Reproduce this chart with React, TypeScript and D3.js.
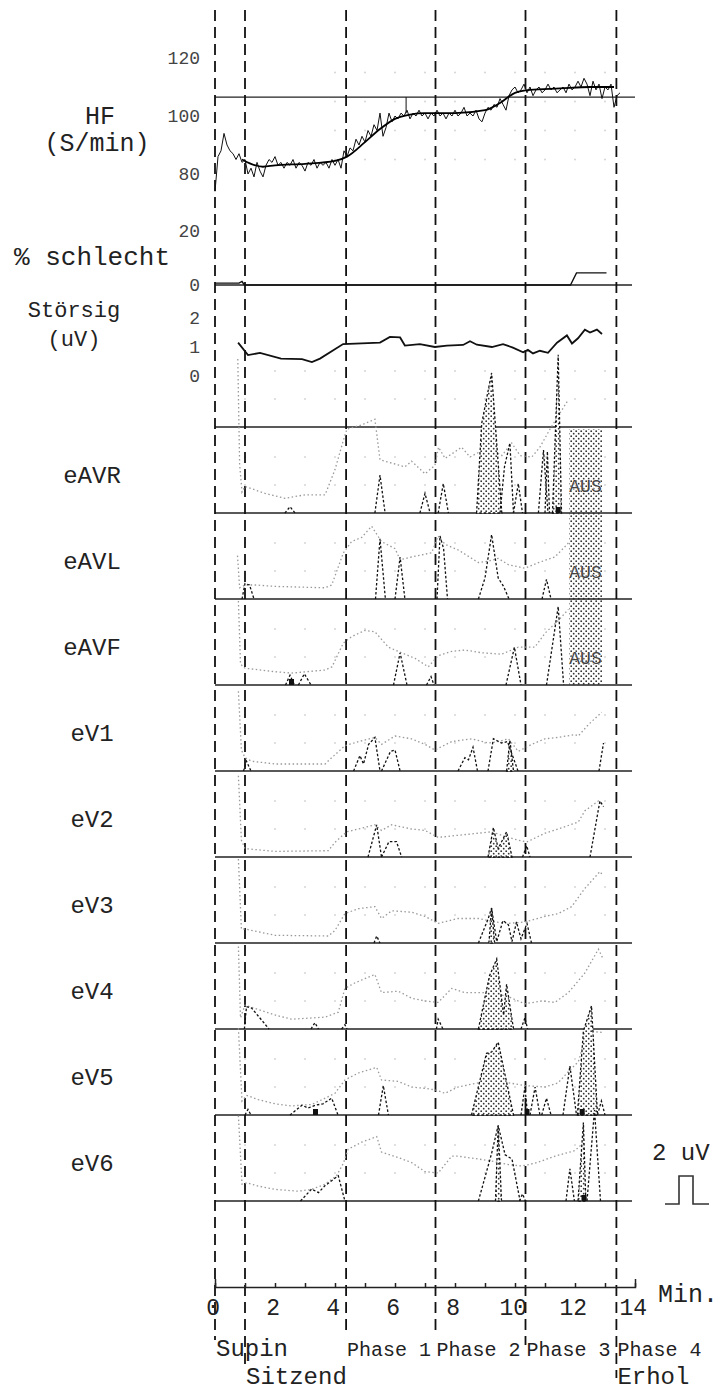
import React, { useEffect, useRef } from 'react';
import * as d3 from 'd3';

const FONT = "'Liberation Mono', 'DejaVu Sans Mono', monospace";

// time axis, minutes
const minuteTicks = d3.range(0, 15);
const phaseLines = [0, 1.0, 4.37, 7.35, 10.35, 13.38];
const phaseText = ['Supin', 'Sitzend', 'Phase 1', 'Phase 2', 'Phase 3', 'Phase 4', 'Erhol'];
const phaseStart = [0, 1.0, 4.37, 7.35, 10.35, 13.38, 13.38];
const phaseRow = [0, 1, 0, 0, 0, 0, 1];

// heart rate
const hfTicks = [80, 100, 120];
const hfRef = 106.5;
const HF_STEP = 0.1;
const hfRaw = [
  74, 86, 88, 94, 90, 88, 87, 85, 87, 84,
  85, 80, 82, 79, 84, 81, 79, 83, 85, 84,
  86, 83, 84, 82, 84, 83, 85, 82, 84, 83,
  81, 84, 83, 85, 82, 84, 83, 84, 82, 85,
  83, 85, 82, 88, 86, 89, 88, 92, 90, 93,
  91, 95, 93, 97, 95, 101, 93, 96, 101, 98,
  100, 99, 101, 100, 102, 99, 101, 100, 102, 100,
  101, 99, 101, 100, 102, 100, 101, 99, 101, 100,
  102, 100, 101, 103, 100, 101, 100, 102, 99, 98,
  101, 103, 102, 104, 103, 106, 104, 102, 107, 109,
  110, 108, 109, 111, 108, 110, 107, 109, 110, 108,
  109, 111, 109, 110, 108, 109, 110, 108, 111, 109,
  110, 112, 110, 113, 111, 107, 112, 109, 111, 106,
  110, 109, 111, 103, 107, 108,
];
const hfTrend: [number, number][] = [
  [0.9, 85], [1.2, 83.5], [1.6, 82.5], [2, 83], [3, 83.5], [4, 84.5], [4.4, 86],
  [5, 91], [5.5, 95.5], [6, 99], [6.5, 100.5], [7, 101], [8, 101], [9, 102],
  [9.5, 104.5], [10, 108], [10.5, 109], [11.5, 109.5], [12.5, 110], [13.3, 110],
];
const hfMarkTime = 6.37;
const hfMarkValue = 101;

// % schlecht
const badTicks = [0, 20];
const badPct: [number, number][] = [
  [0, 0.7], [0.8, 0.7], [0.9, 1.3], [0.98, 0], [11.85, 0], [12.05, 4.5], [13.05, 4.5],
];

// Störsignal (uV)
const noiseTicks = [0, 1, 2];
const noiseUV: [number, number][] = [
  [0.77, 1.15], [1.1, 0.72], [1.5, 0.8], [2.2, 0.6], [2.9, 0.58], [3.23, 0.48], [3.5, 0.6],
  [4.27, 1.1], [5.5, 1.15], [5.83, 1.35], [6.17, 1.33], [6.33, 1.05], [6.83, 1.1], [7.33, 1.0],
  [7.73, 1.05], [8.27, 1.07], [8.5, 1.2], [8.73, 1.08], [9.23, 1.0], [9.6, 1.1], [9.93, 0.98],
  [10.27, 0.82], [10.43, 0.9], [10.6, 0.78], [10.83, 0.87], [11.1, 0.8], [11.4, 1.15],
  [11.73, 1.4], [11.9, 1.12], [12.1, 1.3], [12.33, 1.6], [12.5, 1.5], [12.73, 1.6], [12.9, 1.45],
];

// ST channels (uV): light trend, black spikes, stippled spikes, markers
const channelNames = ['eAVR', 'eAVL', 'eAVF', 'eV1', 'eV2', 'eV3', 'eV4', 'eV5', 'eV6'];
const ausStart = 11.8;
const ausEnd = 12.9;
const ausChannels = [0, 1, 2];

const trendAVR: [number, number][] = [[0.76, 11], [0.82, 3.5], [0.9, 1.5], [1.0, 1.9], [1.67, 1.4], [2.33, 1.05], [3.0, 1.3], [3.67, 1.3], [4.0, 3.1], [4.28, 5.2], [4.4, 6.0], [4.9, 6.3], [5.33, 6.7], [5.5, 3.8], [6.0, 3.5], [6.33, 3.3], [6.55, 3.7], [7.0, 2.8], [7.33, 3.4], [7.45, 4.7], [7.67, 3.9], [8.22, 4.7], [8.5, 4.0], [9.11, 4.7], [9.56, 4.1], [9.89, 5.0], [10.17, 4.1], [10.56, 4.0], [10.83, 4.7], [11.17, 6.0], [11.75, 8.0]];
const spikesAVR: [number, number][][] = [[[2.33, 0], [2.5, 0.45], [2.67, 0]], [[5.33, 0], [5.5, 2.7], [5.67, 0]], [[6.83, 0], [7.0, 1.4], [7.17, 0]], [[7.44, 0], [7.61, 2.1], [7.78, 0]], [[9.5, 0], [9.65, 3.3], [9.83, 5.0], [9.95, 0]], [[9.95, 0], [10.11, 2.1], [10.25, 0]], [[10.78, 0], [10.95, 4.5], [11.1, 0]], [[11.0, 0], [11.08, 4.4], [11.15, 0]]];
const fillsAVR: [number, number][][] = [[[8.72, 0], [8.89, 6.4], [9.22, 10], [9.56, 0]], [[11.25, 0], [11.44, 11.3], [11.55, 0]]];
const markersAVR = [11.44];

const trendAVL: [number, number][] = [[0.75, 3.1], [0.82, 0.8], [1.0, 1.0], [1.35, 1.0], [2.0, 0.9], [3.67, 0.8], [3.89, 1.0], [4.28, 3.3], [4.55, 4.1], [4.89, 4.4], [5.22, 5.2], [5.55, 4.1], [6.0, 3.6], [6.17, 2.8], [6.55, 3.0], [7.22, 3.3], [7.44, 4.5], [7.67, 3.9], [8.11, 3.5], [8.78, 2.6], [9.11, 2.7], [9.44, 2.9], [9.78, 2.45], [10.33, 2.2], [10.78, 2.6], [11.33, 3.0], [11.78, 4.0]];
const spikesAVL: [number, number][][] = [[[0.9, 0], [1.0, 1.1], [1.15, 1.0], [1.3, 0]], [[5.35, 0], [5.5, 4.3], [5.68, 0]], [[6.0, 0], [6.17, 3.0], [6.33, 0]], [[7.4, 0], [7.5, 4.5], [7.62, 3.6], [7.75, 0]], [[8.78, 0], [9.0, 1.5], [9.22, 4.6], [9.44, 1.5], [9.62, 0.9], [9.8, 0]], [[10.9, 0], [11.05, 1.4], [11.2, 0]]];
const fillsAVL: [number, number][][] = [];
const markersAVL: number[] = [];

const trendAVF: [number, number][] = [[0.78, 6.0], [0.85, 1.5], [1.0, 1.2], [2.0, 0.95], [2.55, 0.85], [3.67, 1.07], [3.9, 1.3], [4.28, 3.0], [4.55, 3.45], [5.0, 3.9], [5.33, 3.8], [5.78, 2.7], [6.22, 2.3], [6.67, 1.9], [7.11, 1.3], [7.44, 2.1], [7.89, 2.4], [8.33, 2.5], [8.89, 2.3], [9.55, 2.2], [10.11, 2.7], [10.66, 2.7], [11.0, 3.7], [11.44, 4.6], [11.78, 5.4]];
const spikesAVF: [number, number][][] = [[[2.35, 0], [2.5, 0.7], [2.65, 0]], [[2.78, 0], [2.98, 0.8], [3.2, 0]], [[5.95, 0], [6.17, 2.3], [6.4, 0]], [[7.05, 0], [7.2, 0.6], [7.3, 0]], [[9.7, 0], [9.98, 2.7], [10.2, 0]], [[11.05, 0], [11.44, 5.6], [11.62, 0]]];
const fillsAVF: [number, number][][] = [];
const markersAVF = [2.55];

const trendV1: [number, number][] = [[0.78, 5.7], [0.88, 1.5], [1.0, 0.95], [1.22, 0.7], [2.0, 0.5], [3.67, 0.5], [3.89, 0.95], [4.33, 1.8], [4.78, 2.1], [5.33, 2.4], [5.55, 1.9], [6.0, 2.5], [6.55, 2.3], [7.0, 1.9], [7.33, 1.5], [7.89, 2.1], [8.55, 2.3], [9.11, 2.0], [9.44, 2.1], [9.78, 2.3], [10.11, 1.4], [10.55, 1.9], [11.0, 2.3], [11.44, 2.4], [12.0, 2.6], [12.11, 2.5], [12.44, 3.3], [12.89, 4.2]];
const spikesV1: [number, number][][] = [[[0.95, 0], [1.05, 0.7], [1.2, 0]], [[4.62, 0], [4.83, 1.1], [4.95, 0.5], [5.12, 1.9], [5.33, 2.4], [5.5, 0]], [[5.55, 0], [5.85, 1.4], [6.0, 1.5], [6.17, 0]], [[8.1, 0], [8.33, 0.95], [8.45, 0.8], [8.6, 1.7], [8.75, 0]], [[9.1, 0], [9.28, 2.3], [9.55, 2.0], [9.75, 2.1], [10.1, 0]], [[12.8, 0], [12.95, 2.0]]];
const fillsV1: [number, number][][] = [[[9.72, 0], [9.83, 2.2], [9.95, 0]]];
const markersV1: number[] = [];

const trendV2: [number, number][] = [[0.78, 5.8], [0.88, 1.2], [1.0, 0.6], [2.0, 0.4], [3.78, 0.45], [4.0, 1.05], [4.39, 1.8], [4.78, 2.0], [5.33, 2.3], [5.55, 1.9], [5.89, 2.3], [6.55, 2.0], [7.0, 1.9], [7.44, 1.4], [8.1, 1.55], [8.78, 1.7], [9.22, 1.8], [9.78, 1.4], [10.11, 1.2], [10.39, 1.07], [11.0, 1.7], [11.44, 2.0], [12.11, 2.5], [12.33, 3.3], [12.78, 4.0], [12.94, 3.7]];
const spikesV2: [number, number][][] = [[[5.1, 0], [5.39, 2.3], [5.55, 0]], [[5.55, 0], [5.8, 1.1], [6.05, 1.1], [6.22, 0]], [[10.25, 0], [10.39, 0.8], [10.5, 0]], [[12.5, 0], [12.83, 4.0], [12.95, 3.6]]];
const fillsV2: [number, number][][] = [[[9.1, 0], [9.28, 2.1], [9.44, 0.6], [9.72, 1.8], [9.9, 0]]];
const markersV2: number[] = [];

const trendV3: [number, number][] = [[0.78, 6.0], [0.88, 1.0], [1.0, 1.0], [2.0, 0.55], [3.78, 0.5], [4.0, 0.9], [4.33, 2.1], [4.78, 2.45], [5.33, 2.6], [5.55, 1.75], [5.89, 2.3], [6.55, 2.2], [7.0, 1.9], [7.44, 1.4], [8.1, 1.75], [8.78, 1.75], [9.33, 1.5], [9.78, 1.4], [10.33, 1.5], [11.0, 1.9], [11.44, 2.1], [11.89, 2.6], [12.33, 3.9], [12.83, 5.1], [12.94, 4.8]];
const spikesV3: [number, number][][] = [[[5.3, 0], [5.39, 0.5], [5.5, 0]], [[8.78, 0], [9.1, 1.7], [9.22, 2.5], [9.39, 0.1], [9.6, 1.6], [9.78, 1.3], [9.9, 0.1], [10.05, 1.5], [10.2, 0.3], [10.4, 1.4], [10.55, 0]]];
const fillsV3: [number, number][][] = [[[9.13, 0], [9.22, 2.5], [9.32, 0]]];
const markersV3: number[] = [];

const trendV4: [number, number][] = [[0.78, 5.9], [0.85, 0.8], [1.0, 1.7], [1.22, 1.55], [2.0, 1.0], [2.55, 0.7], [3.67, 0.85], [4.11, 1.2], [4.33, 2.9], [4.67, 3.3], [5.33, 3.9], [5.55, 2.6], [6.11, 2.7], [6.55, 2.2], [7.0, 2.0], [7.44, 1.9], [7.89, 2.9], [8.33, 2.6], [9.22, 2.6], [9.78, 2.3], [10.33, 1.8], [10.89, 2.0], [11.33, 1.9], [11.78, 2.6], [12.33, 4.0], [12.78, 5.7], [12.94, 5.0]];
const spikesV4: [number, number][][] = [[[0.98, 0], [1.05, 1.6], [1.22, 1.5], [1.8, 0]], [[3.2, 0], [3.33, 0.45], [3.45, 0]], [[4.22, 0], [4.33, 0.3], [4.4, 0]], [[7.38, 0], [7.44, 0.7], [7.6, 0]], [[10.2, 0], [10.33, 0.8], [10.42, 0]]];
const fillsV4: [number, number][][] = [[[8.78, 0], [9.15, 3.8], [9.39, 5.0], [9.62, 1.0], [9.72, 3.2], [9.95, 0]]];
const markersV4: number[] = [];

const trendV5: [number, number][] = [[0.78, 6.2], [0.9, 1.0], [1.06, 1.4], [1.44, 1.1], [2.0, 0.8], [2.55, 0.65], [3.22, 0.75], [3.67, 1.2], [4.0, 1.55], [4.33, 2.5], [4.78, 3.0], [5.39, 3.4], [5.55, 2.5], [6.11, 2.4], [6.55, 2.0], [7.0, 1.9], [7.33, 1.8], [7.67, 1.55], [8.1, 2.0], [8.78, 2.3], [9.22, 2.4], [9.78, 2.3], [10.33, 2.1], [11.0, 2.0], [11.44, 2.3], [11.78, 3.1], [12.11, 3.8], [12.28, 5.0], [12.44, 6.0], [12.89, 5.9]];
const spikesV5: [number, number][][] = [[[1.0, 0], [1.1, 0.4], [1.2, 0]], [[2.5, 0], [2.9, 0.7], [3.1, 0.5], [3.35, 0.7], [3.6, 0.8], [3.89, 1.2], [4.1, 0]], [[5.45, 0], [5.61, 2.1], [5.78, 0]], [[10.2, 0], [10.33, 2.0], [10.42, 0]], [[10.5, 0], [10.67, 2.0], [10.83, 0]], [[10.89, 0], [11.05, 1.2], [11.2, 0]], [[11.6, 0], [11.83, 3.5], [12.05, 0]], [[12.75, 0], [12.88, 1.0], [13.0, 0]]];
const fillsV5: [number, number][][] = [[[8.55, 0], [9.05, 4.4], [9.22, 4.5], [9.44, 5.2], [9.95, 0]], [[12.08, 0], [12.28, 6.0], [12.55, 7.8], [12.75, 0]]];
const markersV5 = [3.35, 10.4, 12.24];

const trendV6: [number, number][] = [[0.78, 6.1], [0.9, 1.2], [1.06, 1.3], [1.44, 1.07], [2.0, 0.83], [2.78, 0.7], [3.22, 0.83], [3.67, 1.2], [4.05, 1.8], [4.28, 2.7], [4.44, 3.7], [4.89, 4.2], [5.39, 4.6], [5.55, 3.5], [6.11, 3.1], [6.55, 2.75], [7.0, 2.1], [7.44, 2.0], [7.89, 3.2], [8.1, 3.2], [8.78, 3.0], [9.22, 2.85], [9.78, 2.6], [10.22, 2.5], [10.67, 2.7], [11.33, 3.2], [12.0, 3.6], [12.2, 4.0]];
const spikesV6: [number, number][][] = [[[2.85, 0], [3.22, 0.85], [3.45, 0.6], [3.67, 1.1], [4.11, 1.8], [4.33, 0]], [[8.78, 0], [9.22, 3.4], [9.44, 5.4], [9.67, 3.3], [9.9, 3.0], [10.17, 0]], [[10.15, 0], [10.25, 0.5], [10.35, 0]], [[11.7, 0], [11.83, 2.3], [11.98, 0]], [[12.4, 0], [12.65, 6.5], [12.85, 0]]];
const fillsV6: [number, number][][] = [[[9.35, 0], [9.44, 5.4], [9.55, 0]], [[12.1, 0], [12.28, 5.6], [12.36, 0]]];
const markersV6 = [12.3];

const channelTrends = [trendAVR, trendAVL, trendAVF, trendV1, trendV2, trendV3, trendV4, trendV5, trendV6];
const channelSpikes = [spikesAVR, spikesAVL, spikesAVF, spikesV1, spikesV2, spikesV3, spikesV4, spikesV5, spikesV6];
const channelFills = [fillsAVR, fillsAVL, fillsAVF, fillsV1, fillsV2, fillsV3, fillsV4, fillsV5, fillsV6];
const channelMarkers = [markersAVR, markersAVL, markersAVF, markersV1, markersV2, markersV3, markersV4, markersV5, markersV6];

const scaleBarUV = 2;

export default function App() {
  const svgRef = useRef<SVGSVGElement>(null);

  useEffect(() => {
    const svg = d3.select(svgRef.current);
    svg.selectAll('*').remove();

    const x = d3.scaleLinear().domain([0, 14]).range([215, 635]);
    const hfY = d3.scaleLinear().domain([80, 120]).range([174, 58]);
    const badY = d3.scaleLinear().domain([0, 20]).range([285, 231]);
    const stY = d3.scaleLinear().domain([0, 2]).range([376, 318]);
    const base = (i: number) => 513 + i * 86;
    const panelY = (i: number) => d3.scaleLinear().domain([0, 1]).range([base(i), base(i) - 14]);

    // stipple pattern for filled spikes and AUS band
    const defs = svg.append('defs');
    const pat = defs.append('pattern').attr('id', 'stipple')
      .attr('patternUnits', 'userSpaceOnUse').attr('width', 5).attr('height', 5);
    pat.append('rect').attr('width', 5).attr('height', 5).attr('fill', '#fff');
    pat.append('circle').attr('cx', 1.2).attr('cy', 1.2).attr('r', 0.9).attr('fill', '#333');
    pat.append('circle').attr('cx', 3.7).attr('cy', 3.7).attr('r', 0.9).attr('fill', '#333');

    // faint background dots
    const gridG = svg.append('g').attr('fill', '#d6d6d6');
    d3.range(1, 14).forEach(m => {
      d3.range(-1, 9).forEach(i => {
        [2, 4].forEach(v => {
          gridG.append('circle').attr('cx', x(m)).attr('cy', panelY(i)(v)).attr('r', 1);
        });
      });
      [85, 95, 105, 115].forEach(v => {
        if (m >= 4) gridG.append('circle').attr('cx', x(m)).attr('cy', hfY(v)).attr('r', 1);
      });
    });

    // AUS band
    svg.append('rect')
      .attr('x', x(ausStart)).attr('width', x(ausEnd) - x(ausStart))
      .attr('y', base(ausChannels[0] - 1) + 2)
      .attr('height', base(ausChannels[ausChannels.length - 1]) - base(ausChannels[0] - 1) - 2)
      .attr('fill', 'url(#stipple)');

    // horizontal baselines
    const hl = svg.append('g').attr('stroke', '#222').attr('stroke-width', 1.3);
    hl.append('line').attr('x1', x(0)).attr('x2', x(14)).attr('y1', hfY(hfRef)).attr('y2', hfY(hfRef));
    hl.append('line').attr('x1', x(0)).attr('x2', 632).attr('y1', badY(0)).attr('y2', badY(0));
    d3.range(-1, 9).forEach(i => {
      hl.append('line').attr('x1', x(0)).attr('x2', 632).attr('y1', base(i)).attr('y2', base(i));
    });

    // dashed phase lines
    const lineEnds = [1340, 1370, 1335, 1335, 1345, 1378];
    svg.append('g').selectAll('line').data(phaseLines).join('line')
      .attr('x1', d => x(d)).attr('x2', d => x(d))
      .attr('y1', 10).attr('y2', (d, i) => lineEnds[i])
      .attr('stroke', '#111').attr('stroke-width', 1.8).attr('stroke-dasharray', '11,6');

    // HF
    const hfLine = d3.line<number>().x((d, i) => x(i * HF_STEP)).y(d => hfY(d));
    svg.append('path').attr('d', hfLine(hfRaw)).attr('fill', 'none')
      .attr('stroke', '#111').attr('stroke-width', 1);
    const trendLine = d3.line<[number, number]>().x(d => x(d[0])).y(d => hfY(d[1])).curve(d3.curveMonotoneX);
    svg.append('path').attr('d', trendLine(hfTrend)).attr('fill', 'none')
      .attr('stroke', '#000').attr('stroke-width', 1.8);
    svg.append('line').attr('x1', x(hfMarkTime)).attr('x2', x(hfMarkTime))
      .attr('y1', hfY(hfRef)).attr('y2', hfY(hfMarkValue)).attr('stroke', '#111').attr('stroke-width', 1);

    // % schlecht
    const badLine = d3.line<[number, number]>().x(d => x(d[0])).y(d => badY(d[1]));
    svg.append('path').attr('d', badLine(badPct)).attr('fill', 'none')
      .attr('stroke', '#111').attr('stroke-width', 1.4);

    // Störsig
    const stLine = d3.line<[number, number]>().x(d => x(d[0])).y(d => stY(d[1]));
    svg.append('path').attr('d', stLine(noiseUV)).attr('fill', 'none')
      .attr('stroke', '#111').attr('stroke-width', 1.8);

    // y tick labels
    const tickStyle = (g: any) => {
      g.select('.domain').remove();
      g.selectAll('text').attr('font-family', FONT).attr('font-size', 18).attr('fill', '#444');
    };
    const fmt = d3.format('d');
    svg.append('g').attr('transform', 'translate(215,0)')
      .call(d3.axisLeft(hfY).tickValues(hfTicks).tickFormat(fmt).tickSize(0).tickPadding(15)).call(tickStyle);
    svg.append('g').attr('transform', 'translate(215,0)')
      .call(d3.axisLeft(badY).tickValues(badTicks).tickFormat(fmt).tickSize(0).tickPadding(15)).call(tickStyle);
    svg.append('g').attr('transform', 'translate(215,0)')
      .call(d3.axisLeft(stY).tickValues(noiseTicks).tickFormat(fmt).tickSize(0).tickPadding(15)).call(tickStyle);

    // channels
    channelNames.forEach((name, i) => {
      const y = panelY(i);
      const ln = d3.line<[number, number]>().x(d => x(d[0])).y(d => y(d[1]));
      const g = svg.append('g');

      g.append('path').attr('d', ln(channelTrends[i])).attr('fill', 'none')
        .attr('stroke', '#999').attr('stroke-width', 1.3).attr('stroke-dasharray', '1.5,2.5');

      g.selectAll('path.fill').data(channelFills[i]).join('path').attr('class', 'fill')
        .attr('d', d => ln(d) + 'Z').attr('fill', 'url(#stipple)')
        .attr('stroke', '#111').attr('stroke-width', 1.3).attr('stroke-dasharray', '2.5,2');

      g.selectAll('path.spike').data(channelSpikes[i]).join('path').attr('class', 'spike')
        .attr('d', d => ln(d)).attr('fill', 'none')
        .attr('stroke', '#111').attr('stroke-width', 1.3).attr('stroke-dasharray', '2.5,2');

      g.selectAll('rect').data(channelMarkers[i]).join('rect')
        .attr('x', d => x(d) - 2.5).attr('y', base(i) - 6).attr('width', 5).attr('height', 6)
        .attr('fill', '#111');

      svg.append('text').attr('x', 92).attr('y', base(i) - 30)
        .attr('text-anchor', 'middle').attr('font-family', FONT).attr('font-size', 24)
        .attr('fill', '#222').text(name);

      if (ausChannels.includes(i)) {
        svg.append('text').attr('x', x((ausStart + ausEnd) / 2)).attr('y', base(i) - 21)
          .attr('text-anchor', 'middle').attr('font-family', FONT).attr('font-size', 18)
          .attr('fill', '#444').attr('stroke', '#fff').attr('stroke-width', 0.6)
          .attr('paint-order', 'stroke').text('AUS');
      }
    });

    // left labels
    const lbl = (t: string, xx: number, yy: number, anchor = 'middle', size = 25) =>
      svg.append('text').attr('x', xx).attr('y', yy).attr('text-anchor', anchor)
        .attr('font-family', FONT).attr('font-size', size).attr('fill', '#222').text(t);
    lbl('HF', 100, 124);
    lbl('(S/min)', 97, 151);
    lbl('% schlecht', 14, 265, 'start', 26);
    lbl('Störsig', 74, 317, 'middle', 22);
    lbl('(uV)', 74, 346, 'middle', 22);

    // x axis
    const xAxis = d3.axisBottom(x).tickValues(minuteTicks)
      .tickSize(-4).tickSizeOuter(-8).tickPadding(12)
      .tickFormat((d: any) => (d % 2 === 0 ? String(d) : ''));
    const ax = svg.append('g').attr('transform', 'translate(0,1287)').call(xAxis);
    ax.select('.domain').attr('stroke', '#222').attr('stroke-width', 1.5);
    ax.selectAll('line').attr('stroke', '#222').attr('stroke-width', 1.5);
    ax.selectAll('text').attr('font-family', FONT).attr('font-size', 23).attr('fill', '#222')
      .attr('dx', '-0.1em');
    lbl('Min.', 658, 1302, 'start');

    // phase labels; "Phase n" sized so each ends before the next phase line
    phaseText.forEach((t, i) => {
      const size = t.startsWith('Phase') ? 20 : 24;
      lbl(t, x(phaseStart[i]) + 1, phaseRow[i] === 0 ? 1356 : 1384, 'start', size);
    });

    // scale bar
    const sy = panelY(8);
    const b = 1204;
    const top = b - (sy(0) - sy(scaleBarUV));
    svg.append('path')
      .attr('d', `M665,${b}H679V${top}H693V${b}H709`)
      .attr('fill', 'none').attr('stroke', '#333').attr('stroke-width', 1.6);
    lbl('2 uV', 652, 1160, 'start', 24);
  }, []);

  return (
    <svg
      ref={svgRef}
      width={725}
      height={1391}
      style={{ position: 'absolute', left: 0, top: 0, background: '#fff' }}
    />
  );
}
